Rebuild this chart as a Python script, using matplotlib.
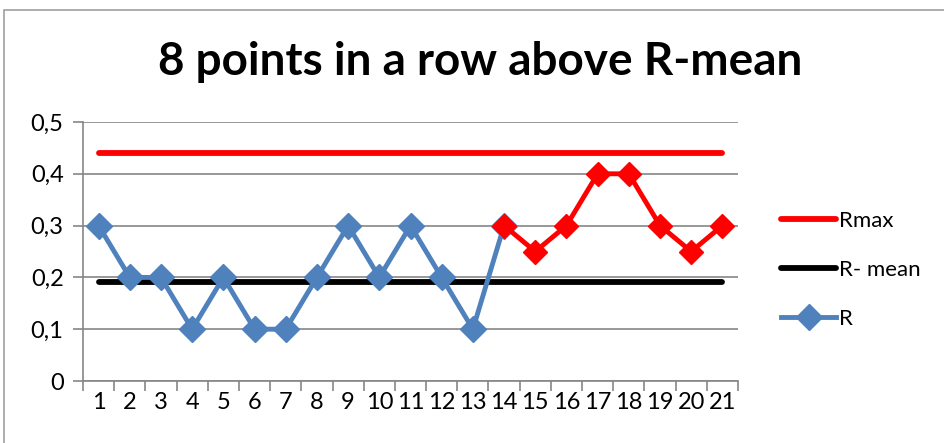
import numpy as np
import matplotlib
matplotlib.use("Agg")
from matplotlib import pyplot as plt
from matplotlib.patches import Rectangle

plt.rcParams['font.family'] = ['Lato', 'DejaVu Sans']

# data
points = list(range(1, 22))
r_values = [0.3, 0.2, 0.2, 0.1, 0.2, 0.1, 0.1, 0.2, 0.3, 0.2, 0.3,
            0.2, 0.1, 0.3, 0.25, 0.3, 0.4, 0.4, 0.3, 0.25, 0.3]
r_max = 0.44
r_mean = 0.192
run_start = 14  # first point of the 8-in-a-row run

blue = '#4F81BD'
red = '#FF0000'
grid_c = '#868686'

fig = plt.figure(figsize=(9.44, 4.43), dpi=100)
fig.patches.append(Rectangle((4 / 944, -0.1), 1.2, 1 - 10 / 443 + 0.1,
                             transform=fig.transFigure, fill=False,
                             edgecolor='#A0A0A0', linewidth=1.2))
ax = fig.add_axes([83 / 944, 1 - 381 / 443, 655 / 944, 259 / 443])

x = np.array(points)
y = np.array(r_values)

ax.plot(x, np.full(len(x), r_max), color=red, lw=4.2,
        solid_capstyle='round', label='Rmax', zorder=3)
ax.plot(x, np.full(len(x), r_mean), color='black', lw=4.2,
        solid_capstyle='round', label='R- mean', zorder=3)
i0 = points.index(run_start)
ax.plot(x[:i0 + 1], y[:i0 + 1], color=blue, lw=3.5, marker='D', ms=13,
        solid_joinstyle='miter', label='R', zorder=4)
ax.plot(x[i0:], y[i0:], color=red, lw=3.5, marker='D', ms=12,
        mec=red, zorder=5)

ax.set_xlim(0.5, 21.5)
ax.set_ylim(0, 0.5)
ax.set_yticks([0, 0.1, 0.2, 0.3, 0.4, 0.5])
ax.set_yticklabels(['0', '0,1', '0,2', '0,3', '0,4', '0,5'])
ax.set_xticks(points)
ax.set_xticks(np.arange(0.5, 22, 1), minor=True)
ax.tick_params(axis='x', which='major', length=0, labelsize=17, pad=8)
ax.tick_params(axis='x', which='minor', length=7, color=grid_c, width=1.2)
ax.tick_params(axis='y', length=7, color=grid_c, width=1.2, labelsize=17, pad=7)

ax.grid(axis='y', color=grid_c, lw=1.2)
ax.set_axisbelow(True)
for s in ['top', 'right']:
    ax.spines[s].set_visible(False)
for s in ['left', 'bottom']:
    ax.spines[s].set_color(grid_c)
    ax.spines[s].set_linewidth(1.2)

fig.text(480 / 944, 1 - 62 / 443, '8 points in a row above R-mean',
         ha='center', va='center', fontsize=33, fontweight='bold')

leg = ax.legend(loc='center left', bbox_to_anchor=(1.035, 0.43), frameon=False,
                fontsize=16, handlelength=2.5, handletextpad=0.1,
                labelspacing=1.3)

fig.savefig('out.png', dpi=100)
